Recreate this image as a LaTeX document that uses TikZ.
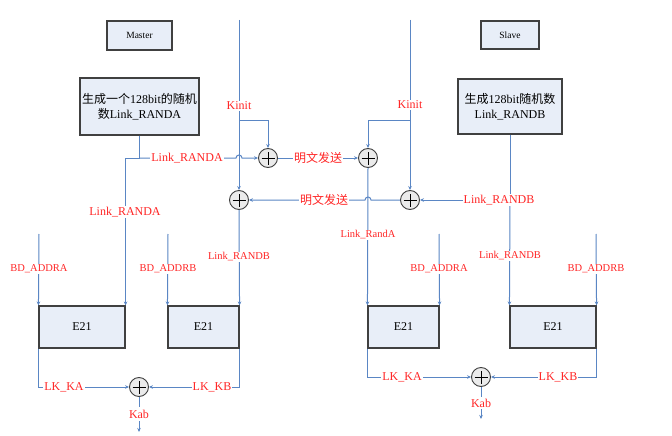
\documentclass[tikz,border=0pt]{standalone}
\usepackage{fontspec}
\setmainfont{Liberation Serif}
\newfontfamily\cjk{Noto Sans CJK SC}
\usetikzlibrary{arrows.meta}
\definecolor{ln}{HTML}{5A86C4}
\definecolor{bx}{HTML}{E8EEF8}
\definecolor{lab}{HTML}{FF2626}
\begin{document}
\begin{tikzpicture}[x=1pt,y=-1pt,
  wire/.style={draw=ln, line width=1pt},
  arr/.style={wire,-{Stealth[length=4pt,width=3.5pt]}},
  blk/.style={draw=black!75, line width=1.1pt, fill=bx, inner sep=0pt, align=center},
  xorc/.style={circle, draw=black!75, line width=0.9pt, fill=black!8, minimum size=19pt, inner sep=0pt,
    path picture={\draw[black, line width=0.9pt]
      ([xshift=-6.5pt]path picture bounding box.center) -- ([xshift=6.5pt]path picture bounding box.center)
      ([yshift=-6.5pt]path picture bounding box.center) -- ([yshift=6.5pt]path picture bounding box.center);}},
  lbl/.style={text=lab, fill=white, inner sep=1pt, font=\fontsize{12}{13}\selectfont},
  slbl/.style={lbl, font=\fontsize{10.5}{11}\selectfont},
]
\useasboundingbox[fill=white] (0,0) rectangle (672,436);

% blocks
\node[blk, minimum width=65, minimum height=29, font=\fontsize{9.5}{10}\selectfont] (master) at (139.5,35.5) {Master};
\node[blk, minimum width=58, minimum height=28, font=\fontsize{9.5}{10}\selectfont] (slave) at (510,35) {Slave};
\node[blk, minimum width=119, minimum height=57, font=\fontsize{12}{15}\selectfont] (boxA) at (139.5,106.5)
  {{\cjk 生成一个}128bit{\cjk 的随机}\\{\cjk 数}Link\_RANDA};
\node[blk, minimum width=104, minimum height=55, font=\fontsize{12}{15}\selectfont] (boxB) at (510,106.5)
  {{\cjk 生成}128bit{\cjk 随机数}\\Link\_RANDB};
\node[blk, minimum width=86, minimum height=42, font=\fontsize{12}{13}\selectfont] (e1) at (82,327) {E21};
\node[blk, minimum width=71, minimum height=42, font=\fontsize{12}{13}\selectfont] (e2) at (203.5,327) {E21};
\node[blk, minimum width=71, minimum height=42, font=\fontsize{12}{13}\selectfont] (e3) at (403.5,327) {E21};
\node[blk, minimum width=86, minimum height=42, font=\fontsize{12}{13}\selectfont] (e4) at (553,327) {E21};

% xor
\node[xorc] (x1) at (268,158) {};
\node[xorc] (x2) at (368,158) {};
\node[xorc] (x3) at (239,200) {};
\node[xorc] (x4) at (410,200) {};
\node[xorc] (x5) at (139,387) {};
\node[xorc] (x6) at (481,377) {};

% coordinates
\coordinate (kl) at (239,20);
\coordinate (kl2) at (239,120);
\coordinate (kr) at (410,20);
\coordinate (kr2) at (410,120);
\coordinate (ja) at (139.5,158);
\coordinate (jb) at (510,200);
\coordinate (a1) at (39,234);
\coordinate (a2) at (168,234);
\coordinate (a3) at (439,234);
\coordinate (a4) at (596,234);
\coordinate (k5) at (139,432);
\coordinate (k6) at (481,419);

% Kinit lines
\draw[arr] (kl) -- (x3);
\draw[arr] (kl2) -| (x1.north);
\draw[arr] (kr) -- (x4);
\draw[arr] (kr2) -| (x2.north);
\node[lbl] (kinitl) at (239,106) {Kinit};
\node[lbl] (kinitr) at (410,105) {Kinit};

% Link_RANDA
\draw[wire] (boxA.south) -- (ja);
\draw[arr] (ja) -- (236,158) arc[start angle=180,end angle=360,radius=3] -- (x1.west);
\draw[arr] (ja) -| (e1.north east);
\node[lbl] (lra1) at (187,158) {Link\_RANDA};
\node[lbl] (lra2) at (125,212) {Link\_RANDA};

% plaintext exchange
\draw[arr] (x1.east) -- (x2.west);
\node[lbl] (mw1) at (318,158) {\cjk 明文发送};
\draw[arr] (x2.south) -- (e3.north west);
\node[slbl] (lra3) at (368,235) {Link\_RandA};

% Link_RANDB
\draw[wire] (boxB.south) -- (jb);
\draw[arr] (jb) -- (x4.east);
\draw[arr] (jb) -- (e4.north west);
\node[lbl] (lrb1) at (499,200) {Link\_RANDB};
\node[slbl] (lrb2) at (510,256) {Link\_RANDB};
\draw[arr] (x4.west) -- (371,200) arc[start angle=360,end angle=180,radius=3] -- (x3.east);
\node[lbl] (mw2) at (324,200) {\cjk 明文发送};
\draw[arr] (x3.south) -- (e2.north east);
\node[slbl] (lrb3) at (239,257) {Link\_RANDB};

% BD_ADDR inputs
\draw[arr] (a1) -- (e1.north west);
\draw[arr] (a2) -- (e2.north west);
\draw[arr] (a3) -- (e3.north east);
\draw[arr] (a4) -- (e4.north east);
\node[slbl] (bd1) at (39,269) {BD\_ADDRA};
\node[slbl] (bd2) at (168,269) {BD\_ADDRB};
\node[slbl] (bd3) at (439,269) {BD\_ADDRA};
\node[slbl] (bd4) at (596,269) {BD\_ADDRB};

% outputs
\draw[arr] (e1.south west) |- (x5.west);
\draw[arr] (e2.south east) |- (x5.east);
\draw[arr] (x5.south) -- (k5);
\node[lbl] (lka1) at (64,387) {LK\_KA};
\node[lbl] (lkb1) at (212,387) {LK\_KB};
\node[lbl, inner ysep=3pt] (kab1) at (139,414) {Kab};

\draw[arr] (e3.south west) |- (x6.west);
\draw[arr] (e4.south east) |- (x6.east);
\draw[arr] (x6.south) -- (k6);
\node[lbl] (lka2) at (402,377) {LK\_KA};
\node[lbl] (lkb2) at (558,377) {LK\_KB};
\node[lbl, inner ysep=2pt] (kab2) at (481,403) {Kab};
\end{tikzpicture}
\end{document}
